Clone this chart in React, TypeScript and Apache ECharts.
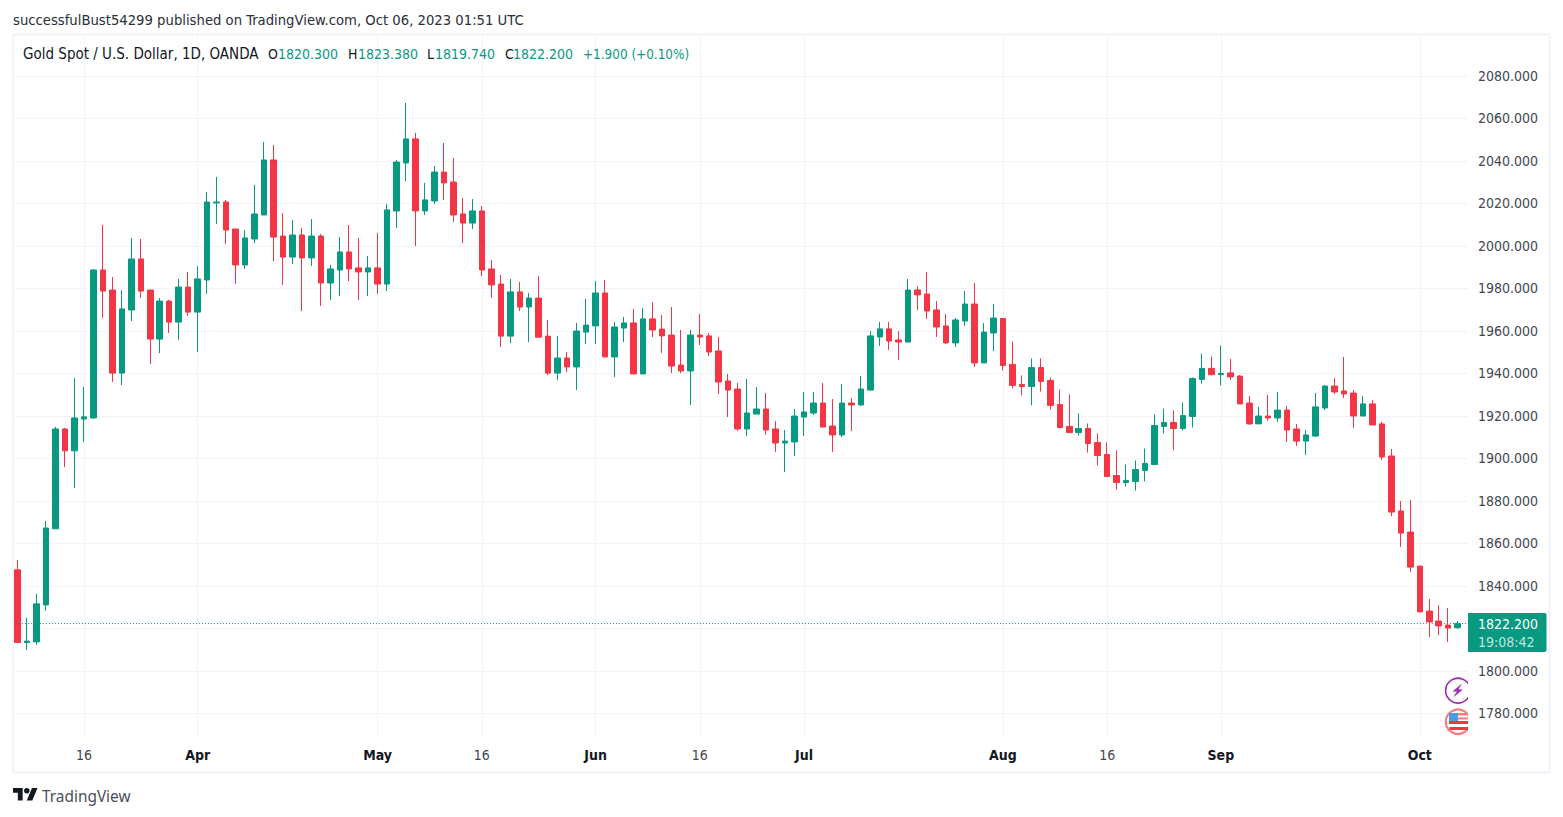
import React, { useEffect, useRef } from "react";
import * as echarts from "echarts";

const opens = [
  1847.5,1813.3,1813.6,1831.0,1866.8,1913.8,1903.5,1918.5,1919.0,1988.6,
  1979.2,1940.1,1969.8,1993.8,1979.2,1956.1,1974.0,1964.1,1980.6,1968.8,
  1983.9,2020.2,2020.6,2007.9,1991.0,2003.2,2014.5,2040.4,2004.6,1994.7,
  2005.1,1994.3,2004.6,1982.5,1988.6,1997.1,1989.6,1987.7,1989.6,1982.0,
  2016.4,2039.0,2050.3,2016.4,2021.1,2034.7,2030.0,2015.0,2010.7,2016.4,
  1989.1,1982.0,1957.5,1978.3,1971.2,1975.4,1957.5,1940.1,1947.2,1943.0,
  1959.4,1962.3,1977.8,1947.7,1961.3,1963.7,1939.7,1965.6,1960.8,1958.0,
  1943.9,1941.1,1958.0,1957.6,1950.5,1936.4,1932.6,1913.8,1920.8,1923.2,
  1913.8,1907.2,1907.7,1919.4,1921.3,1926.0,1915.2,1911.0,1926.0,1925.1,
  1932.1,1957.1,1960.9,1955.7,1954.7,1979.2,1977.3,1969.8,1962.3,1954.3,
  1964.6,1972.6,1944.9,1959.0,1965.8,1944.2,1934.7,1933.8,1942.7,1936.6,
  1925.3,1915.0,1912.1,1914.0,1907.4,1901.8,1891.9,1888.6,1889.1,1894.3,
  1897.1,1915.0,1916.9,1914.0,1919.7,1937.1,1942.3,1939.4,1940.2,1938.7,
  1926.0,1916.2,1919.9,1919.0,1922.7,1913.8,1908.1,1910.5,1923.7,1934.0,
  1931.7,1930.7,1919.9,1925.6,1916.2,1901.1,1875.2,1865.3,1849.3,1828.1,
  1823.4,1821.5,1820.3,
];
const closes = [
  1813.3,1814.0,1831.5,1867.2,1913.8,1903.5,1919.0,1919.5,1988.6,1978.7,
  1940.1,1970.3,1993.8,1978.7,1956.1,1974.0,1964.1,1980.6,1968.8,1984.4,
  2020.6,2020.6,2007.4,1991.0,2003.7,2015.0,2040.4,2004.1,1994.7,2005.1,
  1994.3,2004.6,1982.5,1989.1,1997.1,1989.1,1987.7,1989.6,1982.0,2016.9,
  2039.4,2050.3,2016.4,2021.6,2034.7,2029.6,2014.5,2010.7,2016.4,1988.6,
  1981.6,1957.5,1978.3,1971.2,1975.4,1957.0,1940.1,1947.2,1943.0,1959.9,
  1962.7,1977.8,1947.7,1961.8,1963.7,1939.7,1965.6,1960.4,1957.6,1943.4,
  1941.1,1958.0,1957.1,1950.0,1935.9,1932.1,1913.8,1921.3,1923.2,1913.3,
  1907.2,1908.1,1919.9,1921.8,1926.0,1914.7,1911.0,1926.0,1925.1,1932.6,
  1957.6,1960.9,1955.2,1954.7,1979.2,1976.9,1969.3,1961.8,1954.3,1965.1,
  1972.6,1944.9,1959.4,1966.0,1943.7,1934.3,1933.8,1942.7,1936.2,1924.9,
  1914.5,1912.1,1914.0,1907.0,1901.3,1891.4,1888.6,1889.6,1894.7,1897.6,
  1915.4,1916.9,1914.0,1920.1,1937.6,1942.3,1939.4,1939.9,1938.3,1925.6,
  1916.2,1919.9,1919.0,1922.7,1913.3,1908.1,1911.0,1924.2,1934.0,1931.2,
  1930.3,1919.9,1925.6,1915.7,1900.6,1874.7,1864.8,1848.8,1827.7,1823.0,
  1821.1,1820.1,1822.2,
];
const lows = [
  1813.3,1809.8,1812.2,1828.2,1866.8,1895.9,1886.0,1907.7,1918.5,1966.0,
  1936.0,1934.5,1964.6,1975.4,1944.4,1949.5,1959.0,1955.7,1967.0,1950.0,
  1977.3,2010.3,2000.9,1982.0,1989.1,2001.3,2014.5,1992.8,1981.6,1991.4,
  1969.3,1990.5,1971.7,1974.5,1976.4,1983.4,1974.5,1976.4,1977.3,1978.7,
  2008.4,2030.5,1999.9,2014.5,2019.7,2021.6,2011.2,2001.3,2007.9,1985.8,
  1975.4,1952.4,1954.2,1969.3,1954.7,1957.0,1939.2,1936.8,1940.6,1932.1,
  1953.8,1953.8,1947.7,1938.3,1954.7,1939.7,1939.7,1957.1,1949.6,1940.1,
  1940.1,1925.1,1953.3,1948.1,1930.3,1919.4,1912.8,1910.5,1920.8,1911.0,
  1903.0,1893.5,1901.1,1910.5,1920.4,1914.7,1903.0,1910.0,1912.8,1924.6,
  1932.1,1952.9,1951.0,1946.3,1954.7,1969.8,1965.6,1957.1,1953.8,1952.4,
  1962.3,1943.0,1944.9,1950.5,1941.3,1932.9,1929.6,1924.9,1931.4,1923.0,
  1914.0,1912.1,1910.7,1902.7,1896.6,1891.4,1885.3,1886.7,1884.8,1889.1,
  1897.1,1911.7,1903.7,1913.1,1914.5,1935.2,1939.0,1934.3,1936.9,1925.6,
  1915.7,1916.2,1917.6,1917.1,1907.7,1905.8,1901.6,1910.0,1922.7,1930.3,
  1928.4,1914.3,1919.9,1915.7,1899.2,1872.8,1858.3,1846.5,1827.7,1815.9,
  1816.8,1813.5,1819.7,
];
const highs = [
  1852.2,1824.9,1836.2,1870.5,1914.8,1914.3,1937.8,1933.6,1989.0,2009.8,
  1985.3,1979.2,2003.7,2003.2,1979.2,1975.4,1974.5,1984.4,1987.7,1990.5,
  2025.3,2032.4,2021.6,2007.9,2007.4,2028.6,2048.9,2047.4,2015.4,2012.1,
  2008.4,2012.6,2005.6,1991.0,2004.1,2009.8,2003.7,1995.2,2006.0,2019.7,
  2040.4,2067.2,2053.1,2029.6,2037.6,2048.4,2041.3,2022.5,2022.0,2018.7,
  1993.3,1986.3,1984.4,1983.0,1977.8,1985.8,1965.1,1957.6,1950.0,1963.7,
  1975.0,1983.4,1983.9,1964.1,1966.5,1970.3,1970.7,1973.6,1967.4,1971.2,
  1960.4,1960.4,1967.9,1959.0,1957.1,1939.7,1935.4,1937.3,1933.5,1930.7,
  1917.5,1913.3,1923.2,1931.2,1931.2,1935.4,1927.9,1935.0,1928.4,1938.7,
  1959.9,1964.2,1964.2,1959.9,1984.4,1981.0,1987.7,1974.0,1967.9,1966.0,
  1978.7,1982.5,1963.7,1972.6,1965.8,1955.0,1939.0,1947.0,1947.0,1938.0,
  1932.4,1930.0,1921.1,1916.4,1911.7,1907.4,1903.7,1897.1,1899.0,1904.6,
  1920.6,1923.4,1922.5,1926.3,1938.0,1949.3,1947.9,1953.1,1946.7,1939.2,
  1929.3,1924.2,1929.8,1931.2,1924.6,1916.2,1913.3,1930.7,1934.5,1937.8,
  1947.7,1932.2,1929.3,1927.4,1917.1,1904.4,1879.9,1880.4,1849.3,1833.8,
  1830.9,1829.5,1823.4,
];

const tickIndexes = [7, 19, 38, 49, 61, 72, 83, 104, 115, 127, 148];
const tickLabels = ["16", "Apr", "May", "16", "Jun", "16", "Jul", "Aug", "16", "Sep", "Oct"];
const priceTicks = [1780, 1800, 1820, 1840, 1860, 1880, 1900, 1920, 1940, 1960, 1980, 2000, 2020, 2040, 2060, 2080];
// 1820.000 sits behind the last-price tag in the reference, so it has no visible label
const priceLabels = priceTicks.filter((p) => p !== 1820);
const lastPrice = 1822.2;

const FONT = "'DejaVu Sans Condensed', 'DejaVu Sans', sans-serif";
const UP = "#089981";
const DOWN = "#f23645";
const GRID = "#f2f3f6";

const labelByIndex = new Map(tickIndexes.map((idx, i) => [idx, tickLabels[i]]));
const categories = Array.from({ length: opens.length + 1 }, (_, i) => labelByIndex.get(i) ?? `d${i}`);
const candles = opens.map((o, i) => [o, closes[i], lows[i], highs[i]]);

const headerTexts: [string, number, string, number][] = [
  ["Gold Spot / U.S. Dollar, 1D, OANDA", 23, "#131722", 15],
  ["O", 268, "#131722", 14],
  ["1820.300", 278, UP, 14],
  ["H", 348, "#131722", 14],
  ["1823.380", 358, UP, 14],
  ["L", 427, "#131722", 14],
  ["1819.740", 435, UP, 14],
  ["C", 505, "#131722", 14],
  ["1822.200", 513, UP, 14],
  ["+1.900 (+0.10%)", 583, UP, 13.4],
];

echarts.graphic.registerShape(
  "tvlogo",
  echarts.graphic.extendPath(
    "M14 22H7V11H0V4h14v18zM28 22h-8l7.5-18h8L28 22zM24 8a4 4 0 1 1-8 0a4 4 0 1 1 8 0z",
    {}
  )
);

function text(t: string, x: number, y: number, fill: string, fontSize = 14, extra: any = {}) {
  return {
    type: "text",
    x,
    y,
    z: 50,
    silent: true,
    style: { text: t, fill, fontSize, fontFamily: FONT, verticalAlign: "middle", align: "left", lineHeight: 16, ...extra },
  };
}

function rect(x: number, y: number, width: number, height: number, fill: string, z = 50) {
  return { type: "rect", z, silent: true, shape: { x, y, width, height }, style: { fill } };
}

export default function App() {
  const ref = useRef<HTMLDivElement>(null);
  useEffect(() => {
    const chart = echarts.init(ref.current!, null, { renderer: "svg" });
    chart.setOption({
      animation: false,
      backgroundColor: "#ffffff",
      grid: { left: 12.9, top: 36, width: 1459, height: 701 },
      xAxis: {
        type: "category",
        data: categories,
        boundaryGap: true,
        axisLine: { show: false },
        axisTick: { show: false },
        splitLine: {
          show: true,
          alignWithLabel: true,
          interval: (i: number) => labelByIndex.has(i),
          lineStyle: { color: GRID, width: 1 },
        },
        axisLabel: {
          show: true,
          interval: (i: number) => labelByIndex.has(i),
          margin: 11,
          formatter: (v: string) => (v === "16" ? `{n|${v}}` : `{m|${v}}`),
          rich: {
            n: { fontFamily: FONT, fontSize: 14, color: "#434651" },
            m: { fontFamily: FONT, fontSize: 14, fontWeight: "bold", color: "#131722" },
          },
        },
      },
      yAxis: {
        type: "value",
        position: "right",
        min: 1768.85,
        max: 2098.73,
        axisLine: { show: false },
        axisTick: { show: false, customValues: priceTicks },
        splitLine: { show: true, lineStyle: { color: GRID, width: 1 } },
        axisLabel: {
          margin: 6.1,
          customValues: priceLabels,
          fontFamily: FONT,
          fontSize: 14,
          color: "#434651",
          formatter: (v: number) => v.toFixed(3),
        },
      },
      series: [
        {
          type: "candlestick",
          data: candles,
          barWidth: 6,
          itemStyle: {
            color: UP,
            color0: DOWN,
            borderColor: UP,
            borderColor0: DOWN,
            borderWidth: 1,
          },
          markLine: {
            silent: true,
            symbol: "none",
            label: { show: false },
            lineStyle: { color: UP, type: [1, 2], width: 1 },
            data: [{ yAxis: lastPrice }],
          },
        },
      ],
      graphic: {
        elements: [
          // upcoming-event badges, clipped by the pane's edge
          { type: "circle", z: 40, silent: true, shape: { cx: 1458, cy: 690.6, r: 12.4 }, style: { fill: "#fff", stroke: "#9c27b0", lineWidth: 1.6 } },
          {
            type: "polygon", z: 41, silent: true,
            shape: { points: [[1462, 683.5], [1452.5, 691.5], [1457, 691.5], [1453, 697.5], [1463, 689.5], [1458.5, 689.5]] },
            style: { fill: "#9c27b0" },
          },
          { type: "circle", z: 40, silent: true, shape: { cx: 1458, cy: 721.7, r: 12.2 }, style: { fill: "#fff", stroke: "#f77c80", lineWidth: 2.2 } },
          rect(1449, 721, 19, 3, "#f23645", 41),
          rect(1449.5, 727, 19, 3, "#f23645", 41),
          rect(1449, 713, 9, 8, "#4a9be8", 42),
          rect(1458, 713, 10, 2.5, "#f77c80", 41),
          rect(1458, 717.5, 10, 2, "#f77c80", 41),
          // clip to the pane's right edge
          rect(1468, 36, 8, 701, "#ffffff", 45),
          // last-price tag
          { type: "rect", z: 46, silent: true, shape: { x: 1468, y: 613, width: 78.5, height: 39, r: [0, 2, 2, 0] }, style: { fill: UP } },
          text("1822.200", 1478, 623.5, "#ffffff", 14, { lineHeight: 15 }),
          text("19:08:42", 1478, 642, "rgba(255,255,255,0.75)", 14, { lineHeight: 15 }),
          // frame
          { type: "rect", z: 48, silent: true, shape: { x: 13, y: 34.5, width: 1536.5, height: 738 }, style: { fill: "none", stroke: "#f0f3fa", lineWidth: 2 } },
          // header and footer
          text("successfulBust54299 published on TradingView.com, Oct 06, 2023 01:51 UTC", 13, 19.5, "#2a2e39", 14.7),
          ...headerTexts.map(([t, x, c, s]) => text(t, x, 54, c, s)),
          { type: "tvlogo", z: 50, silent: true, x: 13, y: 785.2, scaleX: 0.69, scaleY: 0.69, style: { fill: "#131722" } },
          text("TradingView", 42, 796, "#4a4e59", 15.4, { fontFamily: "'Noto Sans', sans-serif" }),
        ],
      },
    });
    return () => chart.dispose();
  }, []);
  return <div ref={ref} style={{ position: "fixed", left: 0, top: 0, width: 1563, height: 817 }} />;
}
